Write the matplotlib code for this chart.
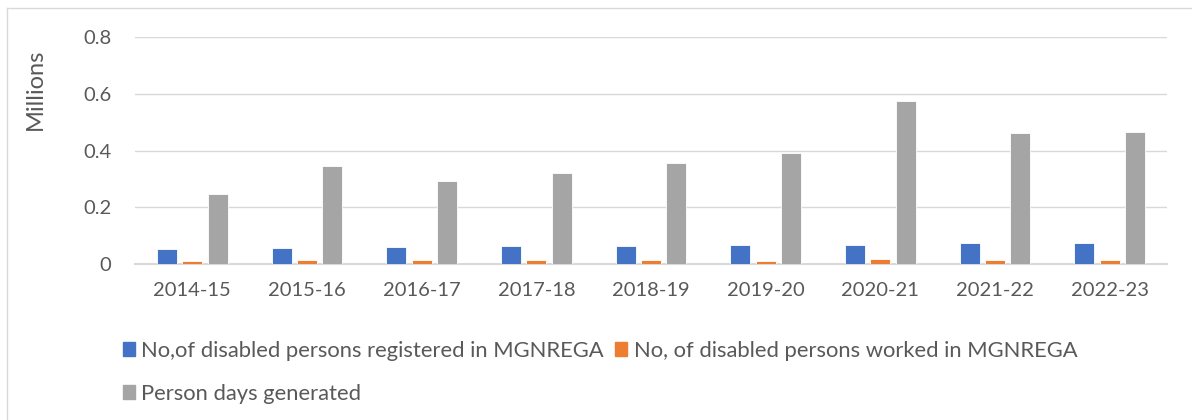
import matplotlib
matplotlib.use("Agg")
import matplotlib.pyplot as plt
import numpy as np
from matplotlib.patches import Patch

# data (millions)
years = ["2014-15", "2015-16", "2016-17", "2017-18", "2018-19",
         "2019-20", "2020-21", "2021-22", "2022-23"]
registered = [0.052, 0.055, 0.060, 0.062, 0.063, 0.066, 0.066, 0.074, 0.075]
worked = [0.011, 0.014, 0.014, 0.013, 0.013, 0.012, 0.017, 0.014, 0.014]
person_days = [0.247, 0.345, 0.293, 0.321, 0.356, 0.391, 0.574, 0.462, 0.465]

labels = ["No,of disabled persons registered in MGNREGA",
          "No, of disabled persons worked in MGNREGA",
          "Person days generated"]
colors = ["#4472c4", "#ed7d31", "#a5a5a5"]

plt.rcParams['font.family'] = ['Lato', 'DejaVu Sans']
txt = "#595959"

fig = plt.figure(figsize=(11.92, 4.20), dpi=100)
ax = fig.add_axes([135/1192, 1 - 264/420, (1167-135)/1192, (264-37)/420])

x = np.arange(len(years))
w = 0.175
step = 0.22
for i, vals in enumerate([registered, worked, person_days]):
    ax.bar(x + (i - 1) * step, vals, width=w, color=colors[i],
           edgecolor="white", linewidth=0.6, zorder=3)

ax.set_xlim(-0.5, len(years) - 0.5)
ax.set_ylim(0, 0.8)
ax.set_yticks([0, 0.2, 0.4, 0.6, 0.8])
ax.set_yticklabels(["0", "0.2", "0.4", "0.6", "0.8"])
ax.set_xticks(x)
ax.set_xticklabels(years)
ax.tick_params(axis="both", length=0, labelsize=14.5, colors=txt)
ax.tick_params(axis="y", pad=17)
ax.tick_params(axis="x", pad=13)
ax.grid(axis="y", color="#d9d9d9", linewidth=1, zorder=0)
for s in ["top", "right", "left"]:
    ax.spines[s].set_visible(False)
ax.spines["bottom"].set_color("#d9d9d9")
ax.spines["bottom"].set_linewidth(1.5)

fig.text(35/1192, 1 - 89/420, "Millions", rotation=90, ha="center", va="center",
         fontsize=17, color=txt)

handles = [Patch(color=colors[0]), Patch(color=colors[2]), Patch(color=colors[1])]
leg = fig.legend(handles, [labels[0], labels[2], labels[1]], ncol=2,
                 loc="upper left", bbox_to_anchor=(103/1192, 1 - 321/420),
                 frameon=False, fontsize=15.8, handlelength=0.55, handleheight=0.55,
                 handletextpad=0.3, columnspacing=0.5, labelspacing=1.05, labelcolor=txt)

# outer chart border (top and left visible)
fig.add_artist(plt.Line2D([7/1192, 1], [1 - 8/420, 1 - 8/420], color="#d9d9d9", lw=1))
fig.add_artist(plt.Line2D([7/1192, 7/1192], [0, 1 - 8/420], color="#d9d9d9", lw=1))

fig.savefig("out.png", dpi=100)
